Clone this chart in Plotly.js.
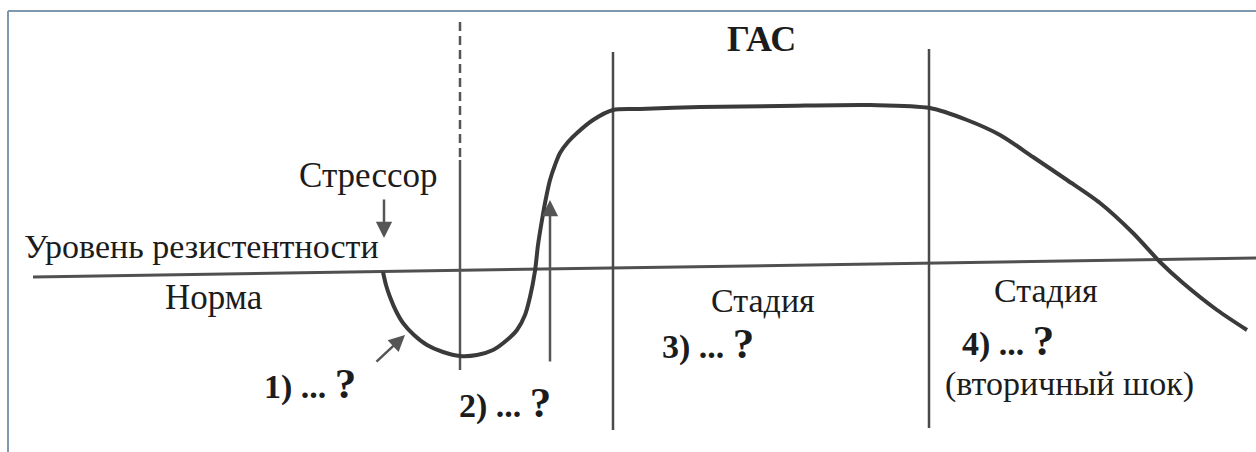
<!DOCTYPE html>
<html>
<head>
<meta charset="utf-8">
<script src="https://cdn.plot.ly/plotly-3.0.1.min.js"></script>
<style>
  html, body { margin: 0; padding: 0; background: #ffffff; }
  #chart { width: 1256px; height: 452px; }
</style>
</head>
<body>
<div id="chart"></div>
<script>
// ---- Data (time in arbitrary units, resistance level relative to the norm) ----
const curveTime = [38.3, 38.6, 39.0, 39.6, 40.3, 41.4, 42.7, 44.3, 46.0, 47.7, 49.3, 50.7, 51.7, 52.5, 53.0, 53.5, 53.8, 54.2, 54.6, 55.0, 55.5, 56.0, 56.8, 57.7, 59.3, 61.3, 64.0, 70.0, 78.0, 87.0, 93.0, 96.7, 100.0, 103.3, 106.7, 110.0, 113.3, 116.0, 118.3, 121.7, 124.7];
const curveLevel = [-0.1, -1.4, -2.6, -4.0, -5.2, -6.4, -7.4, -8.1, -8.5, -8.4, -7.9, -6.9, -5.9, -4.4, -2.6, 0.0, 2.6, 5.1, 7.3, 9.1, 10.6, 11.8, 12.9, 13.8, 15.1, 16.1, 16.2, 16.4, 16.5, 16.6, 16.3, 15.1, 13.6, 11.4, 9.1, 6.8, 3.8, 0.9, -1.2, -3.9, -5.9];

const normTime = [3.3, 125.6];
const normLevel = [-0.6, 1.3];

// stage boundaries
const dashedBoundaryTime = 46.0;
const dashedBoundaryLevels = [24.9, 11.1, -9.9]; // dashed top part, solid lower part
const solidBoundaryTimes = [61.3, 92.9];
const solidBoundaryTop = [21.9, 22.2];
const solidBoundaryBottom = [-15.9, -15.7];

// arrows: tail -> head
const arrowTailTime = [38.4, 37.5, 55.0];
const arrowTailLevel = [7.3, -9.2, -9.2];
const arrowHeadTime = [38.4, 40.5, 55.0];
const arrowHeadLevel = [3.3, -6.4, 7.1];

// labels
const labelTexts = ["ГАС", "Стрессор", "Уровень резистентности", "Норма", "Стадия", "Стадия", "(вторичный шок)"];
const labelTime = [76.1, 36.8, 2.2, 21.4, 76.3, 104.6, 106.9];
const labelLevel = [23.2, 9.6, 2.5, -2.6, -2.9, -1.9, -11.3];
const labelSizes = [36, 35, 34, 35, 34, 34, 34];
const questionTexts = ["1) ... ", "2) ... ", "3) ... ", "4) ... "];
const questionTime = [26.2, 45.7, 66.0, 96.0];
const questionLevel = [-11.2, -13.1, -7.2, -6.9];

// ---- styling ----
const ink = '#3a3a3a';
const textInk = '#1c1c1c';
const serif = 'Liberation Serif';

const traces = [];
traces.push({
  x: normTime, y: normLevel, mode: 'lines',
  line: { color: '#505050', width: 3 }, hoverinfo: 'skip', showlegend: false
});
traces.push({
  x: [dashedBoundaryTime, dashedBoundaryTime], y: [dashedBoundaryLevels[0], dashedBoundaryLevels[1]],
  mode: 'lines', line: { color: '#555555', width: 2.5, dash: '9px,5px' }, hoverinfo: 'skip', showlegend: false
});
traces.push({
  x: [dashedBoundaryTime, dashedBoundaryTime], y: [dashedBoundaryLevels[1], dashedBoundaryLevels[2]],
  mode: 'lines', line: { color: '#555555', width: 2.5 }, hoverinfo: 'skip', showlegend: false
});
solidBoundaryTimes.forEach((t, i) => {
  traces.push({
    x: [t, t], y: [solidBoundaryTop[i], solidBoundaryBottom[i]],
    mode: 'lines', line: { color: '#4a4a4a', width: 2.5 }, hoverinfo: 'skip', showlegend: false
  });
});
traces.push({
  x: curveTime, y: curveLevel, mode: 'lines',
  line: { color: ink, width: 4, shape: 'spline', smoothing: 0.8 }, hoverinfo: 'skip', showlegend: false
});

const annotations = [];
arrowHeadTime.forEach((t, i) => {
  annotations.push({
    x: t, y: arrowHeadLevel[i], ax: arrowTailTime[i], ay: arrowTailLevel[i],
    xref: 'x', yref: 'y', axref: 'x', ayref: 'y',
    text: '', showarrow: true, arrowhead: 2, arrowsize: 1.3, arrowwidth: 2.5,
    arrowcolor: '#555555', standoff: 0, startstandoff: 0
  });
});
labelTexts.forEach((txt, i) => {
  const isTitle = i === 0;
  const leftAnchored = i === 2;
  annotations.push({
    x: labelTime[i], y: labelLevel[i], xref: 'x', yref: 'y',
    text: isTitle ? '<b>' + txt + '</b>' : txt,
    showarrow: false, xanchor: leftAnchored ? 'left' : 'center', yanchor: 'middle',
    font: { family: serif, size: labelSizes[i], color: textInk }
  });
});
questionTexts.forEach((txt, i) => {
  annotations.push({
    x: questionTime[i], y: questionLevel[i], xref: 'x', yref: 'y',
    text: '<b>' + txt + '<span style="font-size:43px">?</span></b>',
    showarrow: false, xanchor: 'left', yanchor: 'middle',
    font: { family: serif, size: 34, color: textInk }
  });
});

const layout = {
  width: 1256, height: 452,
  margin: { l: 0, r: 0, t: 0, b: 0, pad: 0 },
  paper_bgcolor: '#ffffff', plot_bgcolor: '#ffffff',
  font: { family: serif },
  xaxis: { range: [0, 125.6], visible: false, fixedrange: true },
  yaxis: { range: [-18.1, 27.1], visible: false, fixedrange: true },
  showlegend: false,
  annotations: annotations,
  shapes: [
    { type: 'line', xref: 'paper', yref: 'paper', x0: 8 / 1256, x1: 1, y0: 1 - 11 / 452, y1: 1 - 11 / 452,
      line: { color: '#7f98ad', width: 2 } },
    { type: 'line', xref: 'paper', yref: 'paper', x0: 8 / 1256, x1: 8 / 1256, y0: 0, y1: 1 - 11 / 452,
      line: { color: '#7f98ad', width: 2 } }
  ]
};

Plotly.newPlot('chart', traces, layout, { staticPlot: true, displayModeBar: false });
</script>
</body>
</html>
